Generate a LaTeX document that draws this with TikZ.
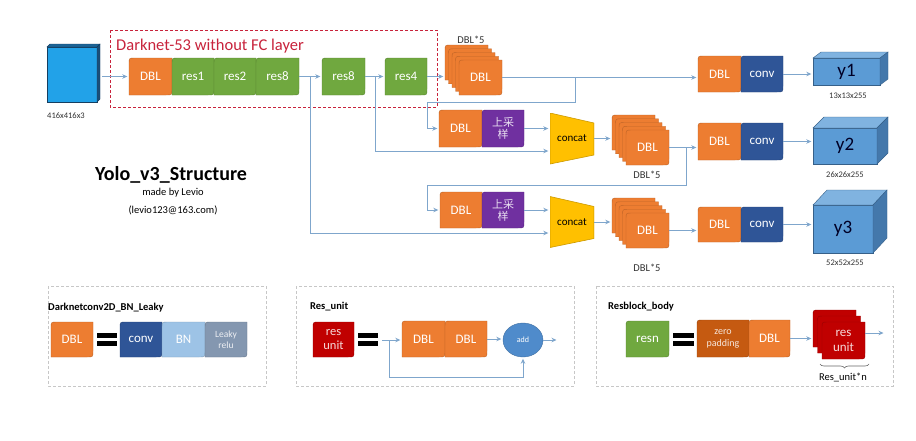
\documentclass[tikz,border=0pt]{standalone}
\usepackage{fontspec}
\setmainfont{Carlito}
\newfontfamily\cjk{Noto Sans CJK SC}
\usetikzlibrary{arrows.meta,decorations.pathreplacing,shapes.geometric}
\definecolor{cor}{HTML}{ED7D31}
\definecolor{cgr}{HTML}{70A83F}
\definecolor{cnv}{HTML}{2F5597}
\definecolor{cpu}{HTML}{7030A0}
\definecolor{cyel}{HTML}{FFC000}
\definecolor{cbn}{HTML}{9DC3E6}
\definecolor{clk}{HTML}{8497B0}
\definecolor{cred}{HTML}{C00000}
\definecolor{czp}{HTML}{C55A11}
\definecolor{conn}{HTML}{7FA6CC}
\definecolor{yfront}{HTML}{5B9BD5}
\definecolor{ytop}{HTML}{80B3E0}
\definecolor{yside}{HTML}{4478AB}
\definecolor{ifront}{HTML}{22A2E8}
\definecolor{itop}{HTML}{1C6496}
\definecolor{iside}{HTML}{1A4E78}
\definecolor{cadd}{HTML}{4F8BCB}
\definecolor{dkred}{HTML}{C8233C}
\definecolor{txt}{HTML}{333333}

\newcommand\blk[8][]{%
  \filldraw[fill=#7,draw=#7!80!black,line width=0.4pt]
    (#3,#4+6) .. controls (#3,#4) .. (#3+6,#4) -- (#5,#4) -- (#5,#6-6)
    .. controls (#5,#6) .. (#5-6,#6) -- (#3,#6) -- cycle;
  \node[blktext,minimum width={((#5)-(#3))*1pt},minimum height={((#6)-(#4))*1pt},#1]
    (#2) at ({((#3)+(#5))/2},{((#4)+(#6))/2}) {#8};}

\newcommand\dblstk[3]{%
  \foreach \i in {0,...,3}{\blk{#1-\i}{#2+3.5*\i}{#3+3.75*\i}{#2+3.5*\i+43}{#3+3.75*\i+35}{cor}{}}
  \blk{#1-4}{#2+14}{#3+15}{#2+57}{#3+50}{cor}{DBL}}

\newcommand\cube[9]{%
  \filldraw[fill=#8front,draw=#8side!80!black,line width=0.4pt] (#2,#3) rectangle (#4,#5);
  \filldraw[fill=#8top,draw=#8side!80!black,line width=0.4pt]
    (#2,#3) -- (#2+#6,#3-#7) -- (#4+#6,#3-#7) -- (#4,#3) -- cycle;
  \filldraw[fill=#8side,draw=#8side!80!black,line width=0.4pt]
    (#4,#3) -- (#4+#6,#3-#7) -- (#4+#6,#5-#7) -- (#4,#5) -- cycle;
  \node[ytext,minimum width={((#4)-(#2))*1pt},minimum height={((#5)-(#3))*1pt}]
    (#1) at ({((#2)+(#4))/2},{((#3)+(#5))/2}) {#9};}

\tikzset{
  blktext/.style={inner sep=0pt,text=white,align=center,font=\fontsize{13}{14}\selectfont},
  ytext/.style={inner sep=0pt,text=black!85!blue,font=\fontsize{19}{20}\selectfont},
  arr/.style={draw=conn,line width=0.8pt,-{Stealth[length=5pt,width=4.5pt]},shorten >=1.5pt},
  ln/.style={draw=conn,line width=0.8pt},
  lbl/.style={inner sep=0pt,text=txt,font=\fontsize{8.5}{10}\selectfont},
  stlbl/.style={inner sep=0pt,text=txt,font=\fontsize{10.5}{12}\selectfont},
  legbox/.style={draw=black!22,dashed,dash pattern=on 3pt off 2pt,line width=0.6pt},
  legtitle/.style={inner sep=0pt,anchor=west,font=\bfseries\fontsize{10.5}{12}\selectfont},
  cat/.style={inner sep=0pt,minimum width=44pt,minimum height=51pt,font=\fontsize{11}{12}\selectfont,
    path picture={\filldraw[fill=cyel,draw=cyel!80!black,line width=0.6pt]
      (path picture bounding box.north west) -- ([yshift=-10pt]path picture bounding box.north east)
      -- ([yshift=9pt]path picture bounding box.south east) -- (path picture bounding box.south west) -- cycle;}},
  cjkt/.style={text=white!85!cpu,font=\cjk\fontsize{11}{12}\selectfont},
  eqbar/.style={fill=black}
}

\begin{document}
\begin{tikzpicture}[x=1pt,y=-1pt]
\useasboundingbox (0,0) rectangle (916,440);
\fill[white] (0,0) rectangle (916,440);

% ---------- input ----------
\cube{in0}{47}{47}{97}{102}{3}{3}{i}{}
\node[lbl] (lin) at (66,116) {416x416x3};

% ---------- darknet backbone ----------
\blk{dbl0}{129}{58}{172}{95}{cor}{DBL}
\blk{r1}{172}{58}{214}{95}{cgr}{res1}
\blk{r2}{214}{58}{256}{95}{cgr}{res2}
\blk{r3}{256}{58}{299}{95}{cgr}{res8}
\blk{r4}{322}{58}{365}{95}{cgr}{res8}
\blk{r5}{385}{58}{427}{95}{cgr}{res4}
\draw[draw=dkred,dashed,dash pattern=on 3pt off 2pt,line width=1pt] (110,30) rectangle (437,107);
\node[inner sep=0pt,anchor=west,text=dkred,font=\fontsize{16.5}{18}\selectfont] (dtitle) at (116,46) {Darknet-53 without FC layer};

% ---------- stacks ----------
\dblstk{s1}{445}{45}
\node[stlbl] (ls1) at (471,40) {DBL*5};
\dblstk{s2}{612}{115}
\node[stlbl] (ls2) at (647,175) {DBL*5};
\dblstk{s3}{612}{198}
\node[stlbl] (ls3) at (647,268) {DBL*5};

% ---------- outputs ----------
\blk{d1}{698}{56}{741}{92}{cor}{DBL}
\blk{c1}{741}{56}{783}{92}{cnv}{conv}
\cube{y1}{813}{58}{880}{85}{8}{6}{y}{y1}
\node[lbl] (ly1) at (848,96) {13x13x255};

\blk{d2}{698}{123}{741}{160}{cor}{DBL}
\blk{c2}{741}{123}{783}{160}{cnv}{conv}
\cube{y2}{813}{128}{877}{164}{11}{11}{y}{y2}
\node[lbl] (ly2) at (845,175) {26x26x255};

\blk{d3}{698}{207}{741}{242}{cor}{DBL}
\blk{c3}{741}{207}{783}{242}{cnv}{conv}
\cube{y3}{813}{205}{873}{253}{14}{15}{y}{y3}
\node[lbl] (ly3) at (845,263) {52x52x255};

% ---------- upsample rows ----------
\blk{u2}{439}{110}{482}{147}{cor}{DBL}
\blk[cjkt]{up2}{482}{110}{524}{147}{cpu}{上采\\样}
\node[cat] (cat2) at (572,138.5) {concat};
\blk{u3}{440}{192}{482}{228}{cor}{DBL}
\blk[cjkt]{up3}{482}{192}{524}{228}{cpu}{上采\\样}
\node[cat] (cat3) at (572,222) {concat};

% ---------- connectors ----------
\draw[arr,shorten <=5pt] (in0.east |- dbl0.west) -- (dbl0.west);
\draw[arr] (r3.east) -- (r4.west);
\draw[arr] (r4.east) -- (r5.west);
\draw[arr] (r5.east) -- (r5.east -| s1-0.west);
\draw[arr] (s1-4.east) -- (s1-4.east -| d1.west);
\draw[arr] (c1.east) -- (c1.east -| y1.west);
\coordinate (b1) at (310,76.5);
\coordinate (b2) at (375,76.5);
\coordinate (b3) at (575,77.5);
\coordinate (k1) at (575,102);
\coordinate (k2) at (427,102);
\draw[arr] (b3) -- (k1) -- (k2) |- (u2.west);
\draw[arr] (b2) |- ([yshift=-12.5pt]cat2.west);
\draw[arr] (b1) |- ([yshift=-11pt]cat3.west);
\draw[arr] (up2.east) -- (up2.east -| cat2.west);
\draw[arr] (cat2.east) -- (cat2.east -| s2-0.west);
\draw[arr] (s2-4.east) -- (s2-4.east -| d2.west);
\draw[arr] (c2.east) -- (c2.east -| y2.west);
\coordinate (b4) at (686,147.5);
\coordinate (k3) at (686,185);
\coordinate (k4) at (427,185);
\draw[arr] (b4) -- (k3) -- (k4) |- (u3.west);
\draw[arr] (up3.east) -- (up3.east -| cat3.west);
\draw[arr] (cat3.east) -- (cat3.east -| s3-0.west);
\draw[arr] (s3-4.east) -- (s3-4.east -| d3.west);
\draw[arr] (c3.east) -- (c3.east -| y3.west);

% ---------- title ----------
\node[inner sep=0pt,font=\bfseries\fontsize{20}{22}\selectfont] (title) at (171,175) {Yolo\_v3\_Structure};
\node[inner sep=0pt,font=\fontsize{10.5}{12}\selectfont] (by) at (173,193) {made by Levio};
\node[inner sep=0pt,font=\fontsize{10.5}{12}\selectfont] (mail) at (173,210) {(levio123@163.com)};

% ---------- legend 1 ----------
\draw[legbox] (48,286) rectangle (266,386);
\node[legtitle] (lt1) at (48,308) {Darknetconv2D\_BN\_Leaky};
\blk{ldbl}{51}{322}{93}{357}{cor}{DBL}
\fill[eqbar] (97,333) rectangle (117,338);
\fill[eqbar] (97,341) rectangle (117,346);
\blk{lconv}{120}{322}{162}{357}{cnv}{conv}
\blk{lbn}{162}{322}{205}{357}{cbn}{BN}
\blk[font=\fontsize{9.5}{11}\selectfont,text=white!85!clk]{lrelu}{205}{322}{247}{357}{clk}{Leaky\\relu}

% ---------- legend 2 ----------
\draw[legbox] (296,286) rectangle (574,386);
\node[legtitle] (lt2) at (310,307) {Res\_unit};
\blk[font=\fontsize{12.5}{14}\selectfont,text=white!85!cred]{lres}{313}{322}{354}{357}{cred}{res\\unit}
\fill[eqbar] (358,333) rectangle (378,338);
\fill[eqbar] (358,341) rectangle (378,346);
\blk{rd1}{402}{321}{445}{357}{cor}{DBL}
\blk{rd2}{445}{321}{487}{357}{cor}{DBL}
\node[ellipse,fill=cadd,draw=cadd!80!black,line width=0.4pt,minimum width=40pt,minimum height=34pt,
  inner sep=0pt,text=white,font=\fontsize{8}{9}\selectfont] (add) at (523,340) {add};
\coordinate (st) at (382,340);
\coordinate (b5) at (389,340);
\coordinate (k5) at (389,377);
\coordinate (ao) at (558,340);
\draw[arr] (st) -- (st -| rd1.west);
\draw[arr] (b5) -- (k5) -| (add.south);
\draw[arr] (rd2.east) -- (rd2.east -| add.west);
\draw[arr] (add.east) -- (ao);

% ---------- legend 3 ----------
\draw[legbox] (596,286) rectangle (893,386);
\node[legtitle] (lt3) at (608,307) {Resblock\_body};
\blk{lresn}{626}{321}{669}{357}{cgr}{resn}
\fill[eqbar] (673,333) rectangle (694,338);
\fill[eqbar] (673,341) rectangle (694,346);
\blk[font=\fontsize{10}{12}\selectfont,text=white!85!czp]{lzp}{697}{320}{749}{357}{czp}{zero\\padding}
\blk{ld3}{749}{320}{790}{357}{cor}{DBL}
\blk{ru-0}{813}{310}{856}{347}{cred}{}
\blk{ru-1}{817.5}{316}{860.5}{353}{cred}{}
\blk[font=\fontsize{13}{15}\selectfont,text=white!85!cred]{ru-2}{822}{322}{865}{359}{cred}{res\\unit}
\draw[arr] (ld3.east) -- (ld3.east -| ru-0.west);
\coordinate (ro) at (885,333);
\draw[arr] (ru-2.east |- ro) -- (ro);
\draw[black!60,line width=0.6pt,decorate,decoration={brace,mirror,amplitude=4pt}] (820,364) -- (869,364);
\node[inner sep=0pt,font=\fontsize{10.5}{12}\selectfont] (lrun) at (843,377) {Res\_unit*n};
\end{tikzpicture}
\end{document}
